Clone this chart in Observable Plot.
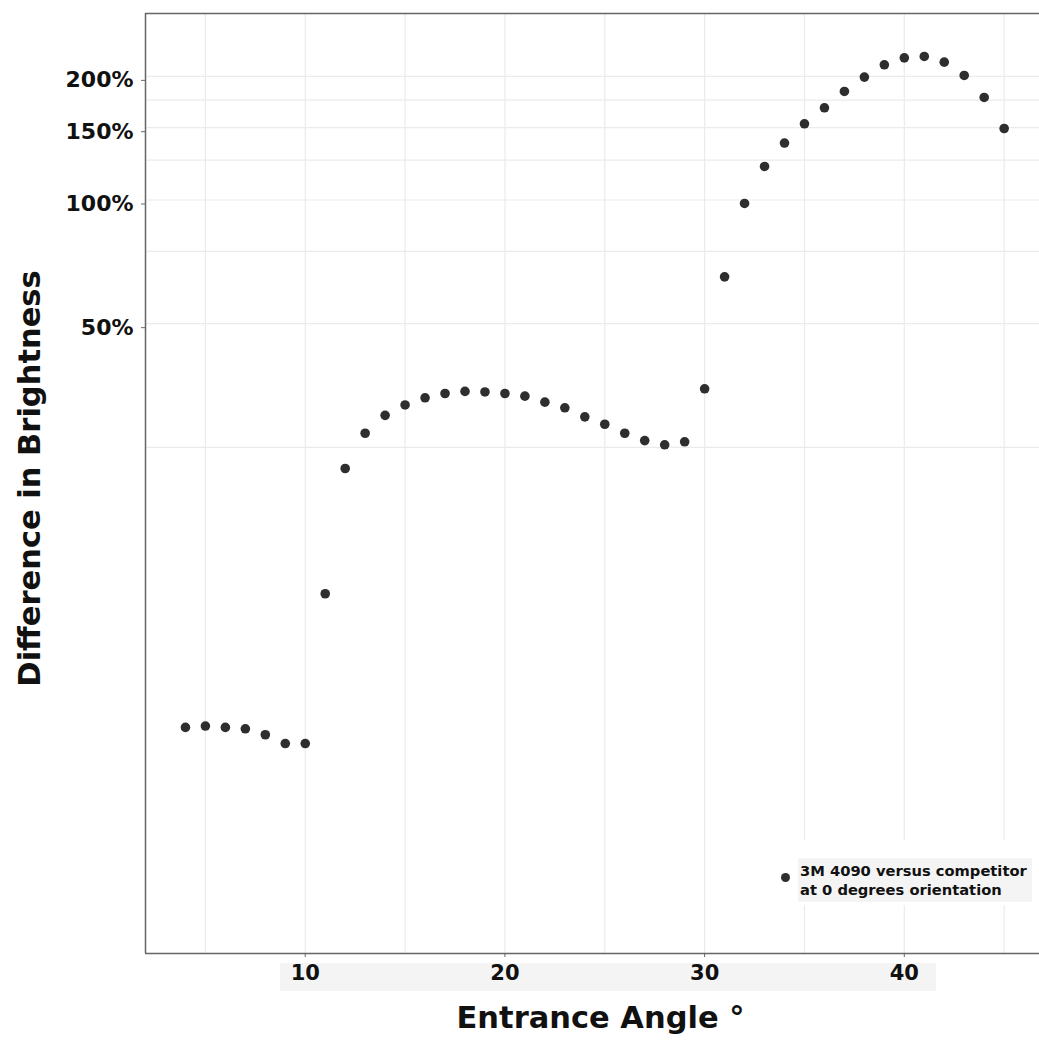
<!DOCTYPE html>
<html>
<head>
<meta charset="utf-8">
<script src="https://cdn.jsdelivr.net/npm/d3@7"></script>
<script src="https://cdn.jsdelivr.net/npm/@observablehq/plot@0.6"></script>
<style>
  html, body { margin: 0; padding: 0; background: #fff; }
  #wrap { position: relative; width: 1039px; height: 1042px; overflow: hidden; font-family: "DejaVu Sans", sans-serif; }
  #band { position: absolute; left: 280px; top: 963px; width: 656px; height: 28px; background: #f4f4f4; }
  #chart { position: absolute; left: 0; top: 0; }
  #legend { position: absolute; left: 772px; top: 840px; width: 267px; height: 65px; background: #fff; }
  #legend .key { position: absolute; left: 9px; top: 33px; width: 9px; height: 9px; border-radius: 50%; background: #2e2e2e; }
  #legend .lab { position: absolute; left: 26px; top: 18px; width: 234px; height: 44px; background: #f4f4f4;
    font-weight: 700; font-size: 14.7px; line-height: 19px; color: #111; padding: 3px 0 0 2px; box-sizing: border-box; white-space: nowrap; }
</style>
</head>
<body>
<div id="wrap">
  <div id="band"></div>
  <div id="chart"></div>
  <div id="legend"><div class="key"></div><div class="lab"></div></div>
</div>
<script>
// ---- data ----
const angles = [4, 5, 6, 7, 8, 9, 10, 11, 12, 13, 14, 15, 16, 17, 18, 19, 20, 21, 22, 23, 24,
  25, 26, 27, 28, 29, 30, 31, 32, 33, 34, 35, 36, 37, 38, 39, 40, 41, 42, 43, 44, 45];
const brightness = [5.20, 5.24, 5.20, 5.16, 4.99, 4.75, 4.75, 11.0, 22.2, 27.05, 29.9, 31.7, 33.0, 33.8,
  34.2, 34.1, 33.8, 33.3, 32.2, 31.2, 29.65, 28.45, 27.05, 25.96, 25.35, 25.78, 34.7, 65.0, 98.1,
  120.7, 137.6, 153.3, 167.7, 183.8, 199.2, 213.4, 221.9, 223.6, 216.6, 201.0, 177.7, 149.3];
const yTickValues = [50, 100, 150, 200];
const yGridValues = [25, 50, 75, 100, 125, 150, 175, 200];
const xTickValues = [10, 20, 30, 40];
const xGridValues = [5, 10, 15, 20, 25, 30, 35, 40, 45];
const legendLines = ["3M 4090 versus competitor", "at 0 degrees orientation"];
const xTitle = "Entrance Angle °";
const yTitle = "Difference in Brightness";

const data = angles.map((a, i) => ({angle: a, diff: brightness[i]}));
const xDomain = [2, 46.77];
const yDomain = [1.464, 284.5];

const chart = Plot.plot({
  width: 1039,
  height: 1042,
  marginLeft: 145,
  marginRight: 0,
  marginTop: 13,
  marginBottom: 89,
  style: {background: "transparent", fontFamily: "'DejaVu Sans', sans-serif", overflow: "visible"},
  x: {domain: xDomain},
  y: {type: "log", domain: yDomain},
  marks: [
    Plot.ruleX(xGridValues, {stroke: "#ebebeb", strokeWidth: 1.2}),
    Plot.ruleY(yGridValues, {stroke: "#ebebeb", strokeWidth: 1.2}),
    Plot.ruleX([xDomain[0]], {stroke: "#666", strokeWidth: 1.5}),
    Plot.ruleY([yDomain[0], yDomain[1]], {stroke: "#666", strokeWidth: 1.5}),
    Plot.axisY(yTickValues, {
      tickFormat: d => d + "%", tickSize: 4, tickPadding: 8, fontSize: 22, fontWeight: 700,
      stroke: "#666", fill: "#111", dy: 4, label: null
    }),
    Plot.axisX(xTickValues, {
      tickSize: 4, tickPadding: 8, fontSize: 21, fontWeight: 700,
      stroke: "#666", fill: "#111", label: null
    }),
    Plot.dot(data, {x: "angle", y: "diff", r: 4.8, fill: "#2e2e2e", stroke: "none"}),
    Plot.text([xTitle], {frameAnchor: "bottom", textAnchor: "middle", lineAnchor: "middle", dy: 65, dx: 8,
      fontSize: 30.5, fontWeight: 700, fill: "#111"}),
    Plot.text([yTitle], {frameAnchor: "left", textAnchor: "middle", lineAnchor: "middle", rotate: -90,
      dx: -115, dy: -5, fontSize: 30.5, fontWeight: 700, fill: "#111"})
  ]
});
document.getElementById("chart").appendChild(chart);
document.querySelector("#legend .lab").innerHTML = legendLines.join("<br>");
</script>
</body>
</html>
